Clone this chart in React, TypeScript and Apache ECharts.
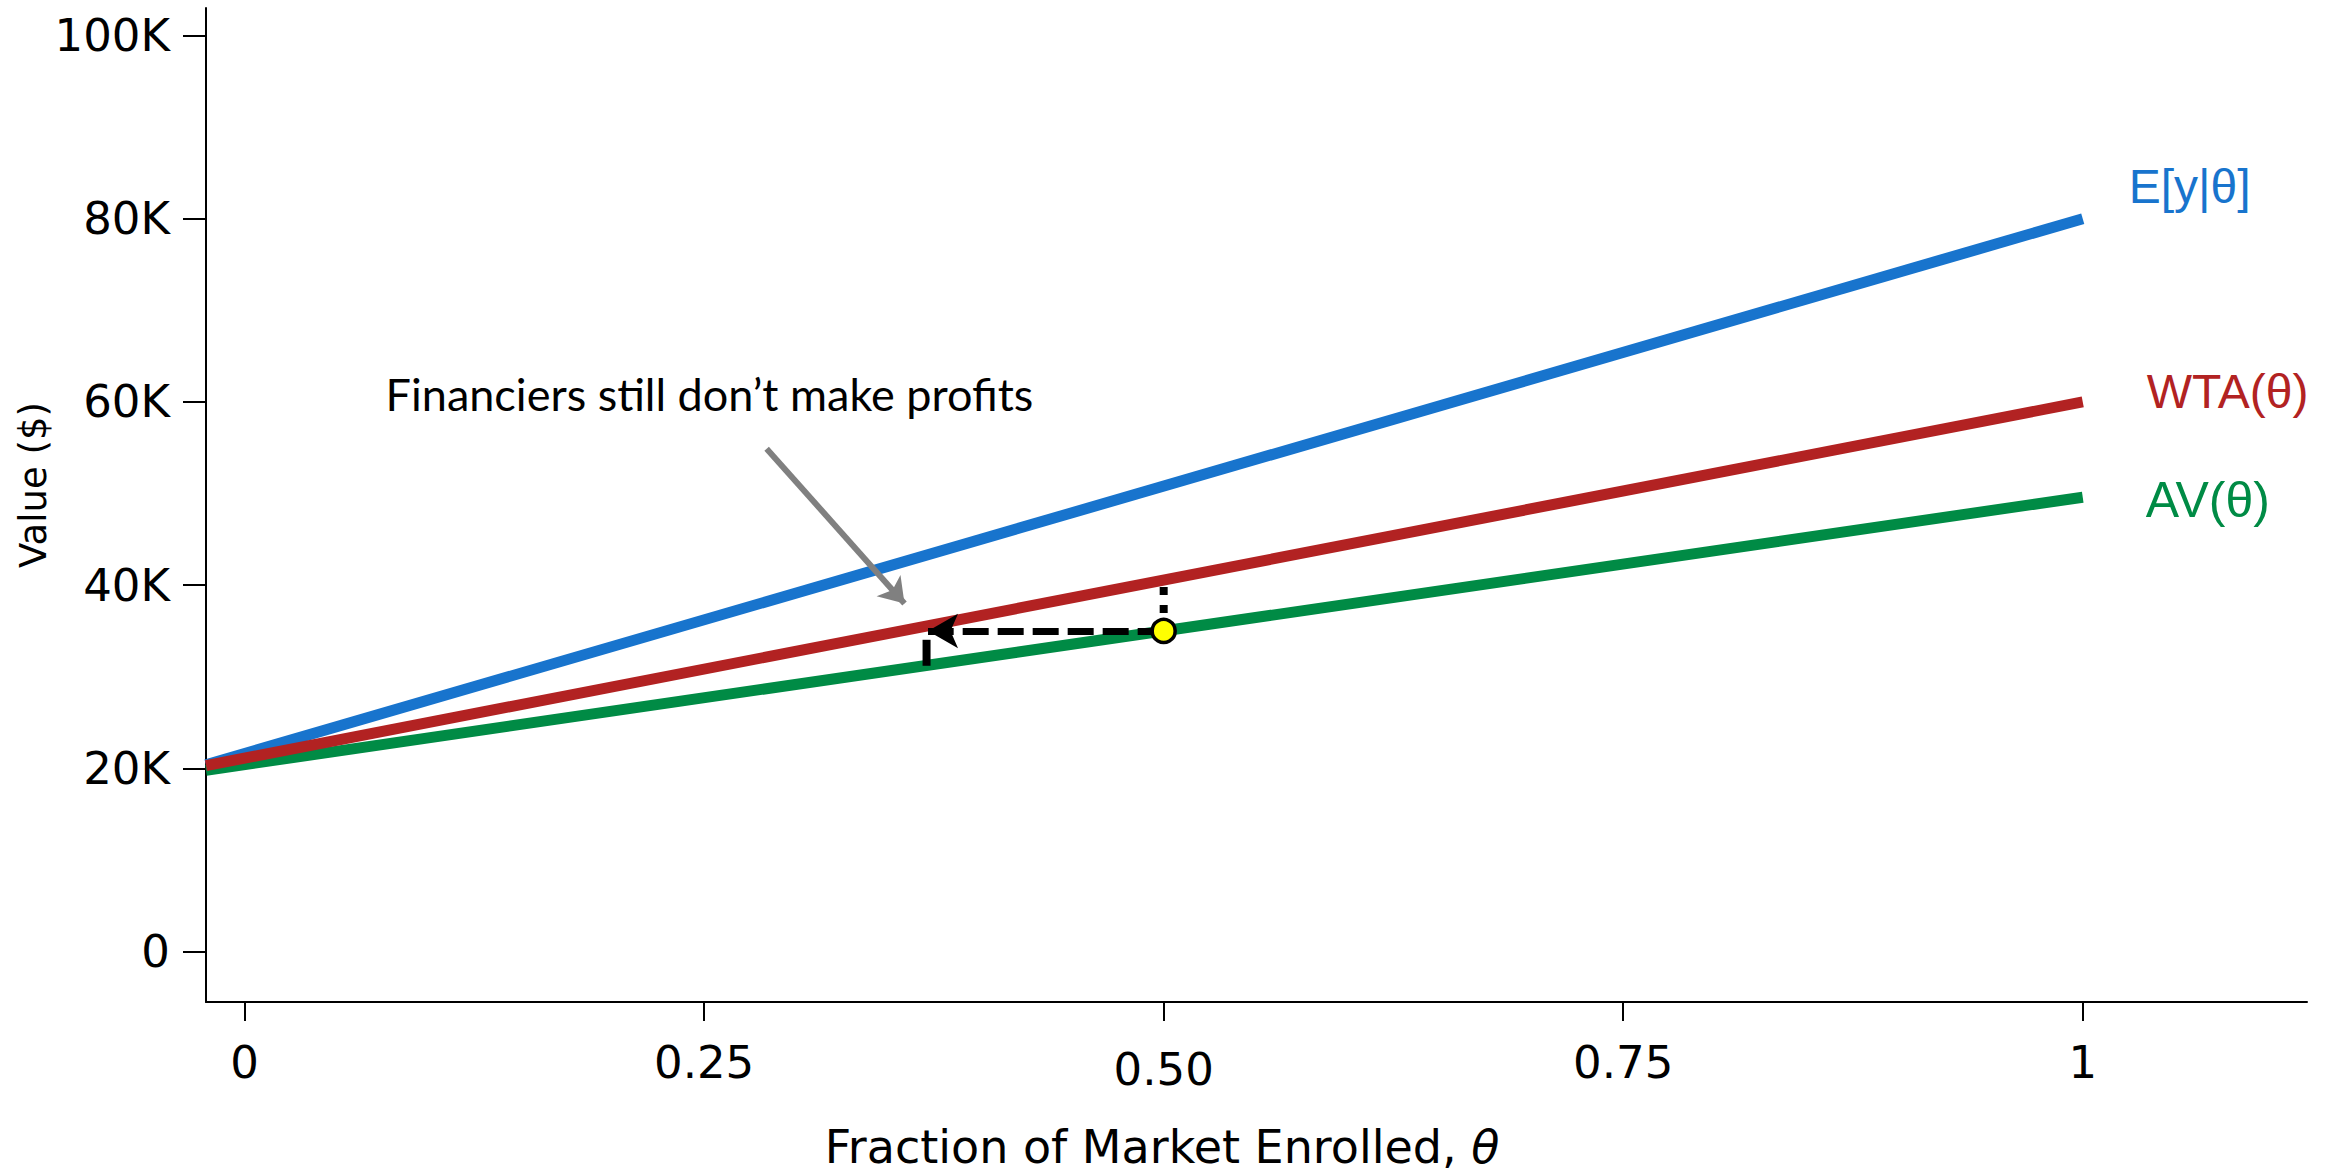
import React, { useEffect, useRef } from "react";
import * as echarts from "echarts";

// ---- data (values in $ thousands) ----
const thetaEnds = [-0.021, 1];
const expectedCost = [20.4, 80]; // E[y|θ]
const wtaValues = [20.3, 60]; // WTA(θ)
const avValues = [19.8, 49.6]; // AV(θ)
const seriesNames = ["E[y|θ]", "WTA(θ)", "AV(θ)"];
const seriesColors = ["#1874CD", "#B22222", "#008B45"];

const xTicks = [0, 0.25, 0.5, 0.75, 1];
const xTickLabels = ["0", "0.25", "0.50", "0.75", "1"];
const yTicks = [0, 20, 40, 60, 80, 100];
const yTickLabels = ["0", "20K", "40K", "60K", "80K", "100K"];

const eqPoint = [0.5, 35]; // equilibrium on AV
const wtaAtEq = 40.5; // WTA at θ = 0.5
const arrowEndTheta = 0.3718; // price-cut arrow tip
const dropTheta = 0.371; // θ where WTA = 35K
const avAtDrop = 31.2;
const noteText = "Financiers still don\u2019t make profits";
const notePos = [0.2529, 60.9];
const noteArrowFrom = [0.284, 54.9];
const noteArrowTo = [0.359, 38.0];

export default function App() {
  const ref = useRef<HTMLDivElement>(null);
  useEffect(() => {
    document.body.style.margin = "0";
    const chart = echarts.init(ref.current!, null, { renderer: "svg" });
    const lineSeries = [expectedCost, avValues, wtaValues].map((vals, k) => {
      const idx = k === 0 ? 0 : k === 1 ? 2 : 1;
      const offsets = [
        [46, -32],
        [64, -10],
        [63, 3],
      ];
      const sizes = [48, 48, 50];
      return {
        type: "line",
        name: seriesNames[idx],
        data: thetaEnds.map((t, i) => [t, vals[i]]),
        symbol: "none",
        silent: true,
        lineStyle: { width: 11, color: seriesColors[idx], cap: "butt" },
        endLabel: {
          show: true,
          formatter: seriesNames[idx],
          color: seriesColors[idx],
          fontFamily: "Liberation Sans",
          fontSize: sizes[idx],
          distance: 0,
          offset: offsets[idx],
        },
      };
    });
    chart.setOption({
      animation: false,
      backgroundColor: "#fff",
      grid: { left: 206, right: 31, top: 8, bottom: 173, containLabel: false },
      xAxis: {
        type: "value",
        min: -0.021,
        max: 1.122,
        axisLine: { show: true, onZero: false, lineStyle: { color: "#000", width: 2 } },
        axisTick: { show: true, length: 19, customValues: xTicks, lineStyle: { color: "#000", width: 2 } },
        splitLine: { show: false },
        axisLabel: {
          customValues: xTicks,
          margin: 38,
          color: "#000",
          fontFamily: "DejaVu Sans",
          fontSize: 45,
          formatter: (v: number) => {
            const i = xTicks.findIndex((t) => Math.abs(t - v) < 1e-9);
            const s = i >= 0 ? xTickLabels[i] : "";
            return Math.abs(v - 0.5) < 1e-9 ? "{low|" + s + "}" : s;
          },
          rich: {
            low: { fontFamily: "DejaVu Sans", fontSize: 45, color: "#000", padding: [7, 0, 0, 0] },
          },
        },
      },
      yAxis: {
        type: "value",
        min: -5.5,
        max: 103,
        axisLine: { show: true, onZero: false, lineStyle: { color: "#000", width: 2 } },
        axisTick: { show: true, length: 23, customValues: yTicks, lineStyle: { color: "#000", width: 2 } },
        splitLine: { show: false },
        axisLabel: {
          customValues: yTicks,
          margin: 36,
          color: "#000",
          fontFamily: "DejaVu Sans",
          fontSize: 45,
          formatter: (v: number) => {
            const i = yTicks.findIndex((t) => Math.abs(t - v) < 1e-9);
            return i >= 0 ? yTickLabels[i] : "";
          },
        },
      },
      series: [
        ...lineSeries,
        {
          type: "line",
          data: [
            [dropTheta, avAtDrop],
            [dropTheta, eqPoint[1]],
          ],
          symbol: "none",
          silent: true,
          lineStyle: { color: "#000", width: 8, type: [26, 9], cap: "butt" },
        },
        {
          type: "line",
          data: [eqPoint, [eqPoint[0], wtaAtEq]],
          symbol: "none",
          silent: true,
          lineStyle: { color: "#000", width: 8, type: [8, 10], cap: "butt" },
          markLine: {
            silent: true,
            symbol: ["none", "arrow"],
            symbolSize: [26, 30],
            label: { show: false },
            lineStyle: { color: "#000", width: 7, type: [26, 9], cap: "butt" },
            data: [[{ coord: eqPoint }, { coord: [arrowEndTheta, eqPoint[1]] }]],
          },
        },
        {
          type: "line",
          data: [],
          symbol: "none",
          silent: true,
          markLine: {
            silent: true,
            symbol: ["none", "arrow"],
            symbolSize: [24, 24],
            label: { show: false },
            lineStyle: { color: "#808080", width: 6, type: "solid" },
            data: [[{ coord: noteArrowFrom }, { coord: noteArrowTo }]],
          },
          markPoint: {
            silent: true,
            symbol: "circle",
            symbolSize: 0,
            data: [
              {
                coord: notePos,
                label: {
                  show: true,
                  position: "inside",
                  formatter: noteText,
                  color: "#000",
                  fontFamily: "Lato",
                  fontSize: 45,
                },
              },
            ],
          },
        },
        {
          type: "scatter",
          data: [eqPoint],
          symbol: "circle",
          symbolSize: 23,
          silent: true,
          z: 10,
          itemStyle: { color: "#FFFF00", opacity: 1, borderColor: "#000", borderWidth: 3.5 },
        },
      ],
      graphic: [
        {
          type: "text",
          x: 1162,
          y: 1147,
          style: {
            text: "{n|Fraction of Market Enrolled, }{i|θ}",
            align: "center",
            verticalAlign: "middle",
            rich: {
              n: { fontFamily: "DejaVu Sans", fontSize: 46, fill: "#000" },
              i: { fontFamily: "DejaVu Sans", fontSize: 46, fontStyle: "italic", fill: "#000" },
            },
          },
        },
        {
          type: "text",
          x: 33,
          y: 485,
          rotation: Math.PI / 2,
          style: {
            text: "Value ($)",
            fontFamily: "DejaVu Sans",
            fontSize: 37,
            fill: "#000",
            align: "center",
            verticalAlign: "middle",
          },
        },
      ],
    });
    return () => chart.dispose();
  }, []);
  return <div ref={ref} style={{ width: 2338, height: 1175 }} />;
}
